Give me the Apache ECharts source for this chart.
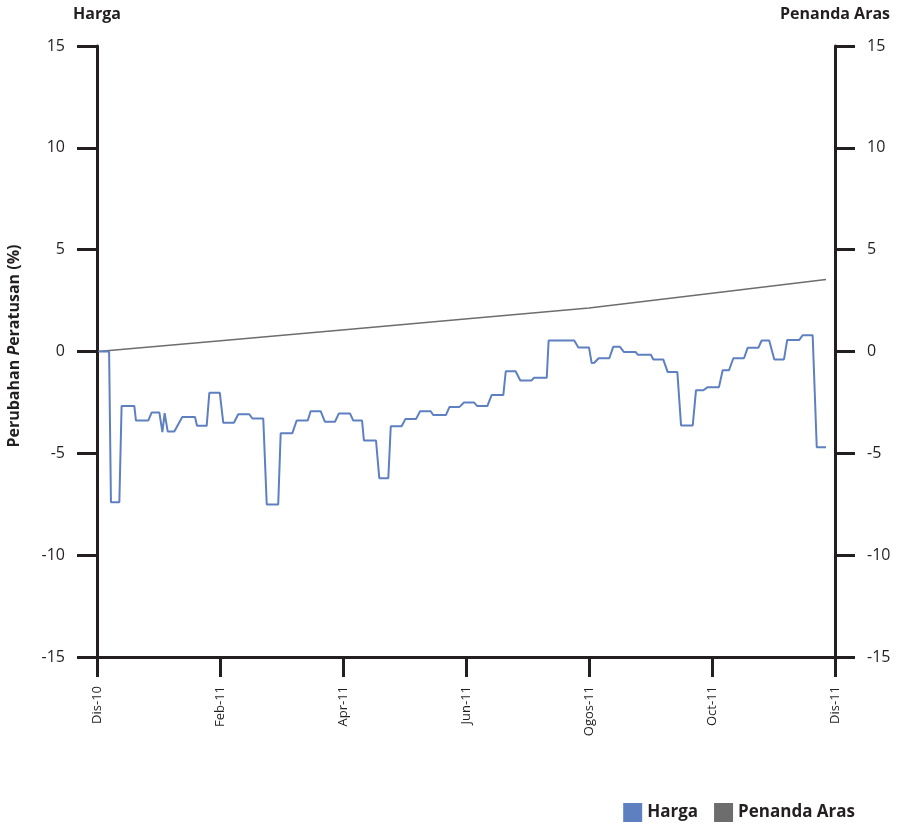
<!DOCTYPE html>
<html>
<head>
<meta charset="utf-8">
<script src="https://cdn.jsdelivr.net/npm/echarts@6/dist/echarts.min.js"></script>
<style>html,body{margin:0;padding:0;background:#fff}#c{width:898px;height:828px}</style>
</head>
<body>
<div id="c"></div>
<script>
// x in trading-day-like units: each two-month tick = 60 units
const tickLabels = ['Dis-10', 'Feb-11', 'Apr-11', 'Jun-11', 'Ogos-11', 'Oct-11', 'Dis-11'];
const hargaX = [1,5.9,6.8,10.9,12.0,18.2,19.0,25.0,26.7,30.4,31.9,33.0,34.5,37.7,41.6,47.8,48.8,53.5,54.8,59.9,61.6,66.8,68.9,74.3,75.8,81.1,82.8,88.4,89.6,95.3,97.4,102.8,104.2,109.1,111.2,116.1,118.0,123.4,125.0,129.3,130.2,136.1,137.7,142.1,143.3,148.6,150.4,155.6,157.6,162.8,164.0,170.2,171.9,176.7,179.0,183.9,185.5,190.4,192.5,198.2,199.4,204.2,206.5,212.0,213.2,219.4,220.3,232.8,234.8,240.0,241.3,242.6,244.7,249.9,251.8,255.1,257.1,262.8,263.8,270.2,271.4,276.2,278.4,283.1,284.9,290.6,292.2,295.8,297.9,303.4,305.2,308.3,310.4,315.6,317.4,322.6,324.2,327.9,330.4,335.1,336.7,342.6,344.2,349.1,351.1,355.6];
const hargaY = [0,0,-7.4,-7.4,-2.67,-2.67,-3.39,-3.39,-2.99,-2.99,-3.96,-3.03,-3.93,-3.93,-3.22,-3.22,-3.65,-3.65,-2.03,-2.03,-3.5,-3.5,-3.08,-3.08,-3.29,-3.29,-7.51,-7.51,-4.01,-4.01,-3.39,-3.39,-2.93,-2.93,-3.45,-3.45,-3.04,-3.04,-3.39,-3.39,-4.37,-4.37,-6.22,-6.22,-3.67,-3.67,-3.32,-3.32,-2.93,-2.93,-3.12,-3.12,-2.73,-2.73,-2.5,-2.5,-2.68,-2.68,-2.14,-2.14,-0.97,-0.97,-1.42,-1.42,-1.29,-1.29,0.54,0.54,0.2,0.2,-0.57,-0.55,-0.33,-0.33,0.23,0.23,-0.03,-0.03,-0.16,-0.16,-0.39,-0.39,-1.01,-1.01,-3.63,-3.63,-1.9,-1.9,-1.75,-1.75,-0.92,-0.92,-0.33,-0.33,0.18,0.18,0.54,0.54,-0.39,-0.39,0.57,0.57,0.8,0.8,-4.7,-4.7];
const arasX = [0.5, 59, 119.5, 179.5, 240, 300, 355.6];
const arasY = [0, 0.52, 1.06, 1.6, 2.14, 2.86, 3.53];
const yTicks = [-15, -10, -5, 0, 5, 10, 15];

const FONT = '"Open Sans", "Noto Sans", sans-serif';
const TXT = '#231f20';
const chart = echarts.init(document.getElementById('c'), null, {renderer: 'canvas'});
const axisLineStyle = {color: '#231f20', width: 3};
const yAxisBase = {
  type: 'value', min: yTicks[0], max: yTicks[yTicks.length - 1], interval: 5,
  splitLine: {show: false},
  axisLine: {show: true, onZero: false, lineStyle: axisLineStyle},
  axisTick: {show: true, length: 20, lineStyle: axisLineStyle},
  axisLabel: {color: TXT, fontSize: 16, fontFamily: FONT, margin: 32},
  nameLocation: 'end', nameGap: 24,
  nameTextStyle: {color: TXT, fontSize: 16, fontWeight: 'bold', fontFamily: FONT}
};
chart.setOption({
  animation: false,
  backgroundColor: '#fff',
  grid: {left: 97, right: 63, top: 46, bottom: 171, containLabel: false},
  legend: {
    right: 43, top: 803, padding: 0, itemWidth: 19, itemHeight: 19, itemGap: 16, icon: 'rect',
    textStyle: {color: TXT, fontSize: 17, fontWeight: 'bold', fontFamily: FONT},
    data: ['Harga', 'Penanda Aras']
  },
  xAxis: {
    type: 'value', min: 0, max: 360, interval: 60,
    splitLine: {show: false},
    axisLine: {show: true, onZero: false, lineStyle: axisLineStyle},
    axisTick: {show: true, length: 20, lineStyle: axisLineStyle},
    axisLabel: {
      color: TXT, fontSize: 13, fontFamily: FONT, rotate: 90, margin: 29,
      formatter: v => tickLabels[Math.round(v / 60)] || ''
    }
  },
  yAxis: [
    Object.assign({}, yAxisBase, {position: 'left', name: 'Harga'}),
    Object.assign({}, yAxisBase, {position: 'right', name: 'Penanda Aras'})
  ],
  graphic: [{
    type: 'text', rotation: Math.PI / 2,
    x: 14, y: 346,
    style: {
      text: '{a|Perubahan }{b|P}{a|eratusan (%)}',
      align: 'center', verticalAlign: 'middle',
      rich: {
        a: {fontSize: 16, fontWeight: 'bold', fontFamily: FONT, fill: TXT},
        b: {fontSize: 16, fontWeight: 'bold', fontStyle: 'italic', fontFamily: FONT, fill: TXT}
      }
    }
  }],
  series: [
    {
      name: 'Harga', type: 'line', yAxisIndex: 0, symbol: 'none', z: 3,
      color: '#5e80c0',
      lineStyle: {color: '#5e80c0', width: 2},
      data: hargaX.map((x, i) => [x, hargaY[i]])
    },
    {
      name: 'Penanda Aras', type: 'line', yAxisIndex: 1, symbol: 'none', z: 2,
      color: '#6d6d6d',
      lineStyle: {color: '#6d6d6d', width: 1.5},
      data: arasX.map((x, i) => [x, arasY[i]])
    }
  ]
});
</script>
</body>
</html>
